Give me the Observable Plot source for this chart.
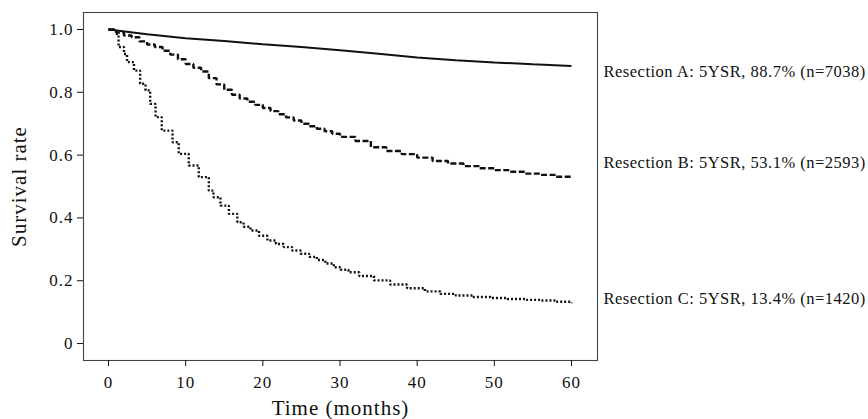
<!DOCTYPE html>
<html><head><meta charset="utf-8">
<script src="https://cdn.jsdelivr.net/npm/d3@7"></script>
<script src="https://cdn.jsdelivr.net/npm/@observablehq/plot@0.6"></script>
<style>
html,body{margin:0;padding:0;background:#fff;}
#chart svg{display:block;}
g[aria-label="x-axis tick label"], g[aria-label="y-axis tick label"]{letter-spacing:1px;}
g[aria-label="x-axis label"], g[aria-label="y-axis label"]{letter-spacing:1px;}
g[aria-label="text"]{letter-spacing:0.5px;}
</style></head><body><div id="chart"></div>
<script>
// ---- data ----
const seriesNames = ["Resection A", "Resection B", "Resection C"];
const fiveYSR = [0.887, 0.531, 0.134];
const nPatients = [7038, 2593, 1420];

const monthsA = [0, 5, 10, 15, 20, 25, 30, 35, 40, 45, 50, 55, 60];
const survA   = [1.0, 0.985, 0.972, 0.963, 0.953, 0.944, 0.934, 0.923, 0.911, 0.902, 0.895, 0.889, 0.884];

const monthsB = [0, 1, 2, 3, 4, 5, 6, 7, 8, 9, 10, 11, 12, 13, 14, 15, 16, 17, 18, 19, 20, 21, 22, 23, 24, 25, 26, 27, 28, 29, 30, 32, 34, 36, 38, 40, 42, 44, 46, 48, 50, 52, 54, 56, 58, 60];
const survB   = [1.0, 0.99, 0.981, 0.975, 0.962, 0.952, 0.944, 0.932, 0.92, 0.905, 0.89, 0.878, 0.866, 0.845, 0.825, 0.808, 0.792, 0.78, 0.77, 0.76, 0.75, 0.74, 0.73, 0.72, 0.71, 0.70, 0.692, 0.684, 0.676, 0.668, 0.658, 0.645, 0.625, 0.613, 0.603, 0.592, 0.581, 0.573, 0.565, 0.558, 0.552, 0.547, 0.541, 0.537, 0.531, 0.526];

const monthsC = [0, 1, 1.3, 2, 2.4, 3.3, 4.1, 4.8, 5.4, 6.1, 6.9, 8.3, 9.1, 10.4, 11.7, 13.0, 13.6, 14.5, 15.6, 16.7, 17.5, 18.4, 19.5, 20.6, 21.7, 22.7, 23.8, 24.9, 26, 27, 28.1, 29.2, 30.1, 31.1, 32.5, 34.4, 36.5, 38.7, 41, 43, 45, 47.3, 49.5, 51.7, 54, 56, 58, 60];
const survC   = [1.0, 0.986, 0.944, 0.922, 0.896, 0.869, 0.827, 0.806, 0.763, 0.721, 0.678, 0.641, 0.604, 0.567, 0.53, 0.487, 0.466, 0.439, 0.413, 0.386, 0.372, 0.36, 0.343, 0.328, 0.317, 0.307, 0.296, 0.286, 0.276, 0.266, 0.255, 0.243, 0.235, 0.227, 0.215, 0.201, 0.188, 0.176, 0.166, 0.158, 0.153, 0.148, 0.145, 0.142, 0.139, 0.137, 0.133, 0.128];

const xTicks = [0, 10, 20, 30, 40, 50, 60];
const yTicks = [0, 0.2, 0.4, 0.6, 0.8, 1.0];
const yTickLabels = ["0", "0.2", "0.4", "0.6", "0.8", "1.0"];

// ---- build table ----
const rows = [];
[[monthsA, survA], [monthsB, survB], [monthsC, survC]].forEach(([m, s], i) =>
  m.forEach((t, j) => rows.push({series: seriesNames[i], month: t, surv: s[j]})));
const labels = seriesNames.map((name, i) => ({
  name, y: fiveYSR[i],
  text: `${name}: 5YSR, ${(fiveYSR[i] * 100).toFixed(1)}% (n=${nPatients[i]})`
}));

// ---- styles ----
const lineStyles = [
  {curve: "linear", strokeWidth: 2.0, strokeDasharray: null},
  {curve: "step-after", strokeWidth: 2.4, strokeDasharray: "6,2.5"},
  {curve: "step-after", strokeWidth: 2.4, strokeDasharray: "2,2"}
];
const labelDy = [7, -14, -3];

const chart = Plot.plot({
  width: 868, height: 419,
  marginLeft: 83, marginRight: 271, marginTop: 12, marginBottom: 59,
  x: {domain: [-3.24, 63.37]},
  y: {domain: [-0.054, 1.054]},
  style: {fontFamily: "'Liberation Serif', 'Times New Roman', serif", color: "#111", background: "#fff"},
  marks: [
    Plot.frame({stroke: "#444", strokeWidth: 1.1}),
    Plot.axisX({ticks: xTicks, tickSize: 6, tickPadding: 9, fontSize: 17, label: null, tickFormat: d => String(d)}),
    Plot.axisX({ticks: [], tickSize: 0, label: "Time (months)", labelAnchor: "center", labelOffset: 54, labelArrow: "none", fontSize: 21}),
    Plot.axisY({ticks: yTicks, tickSize: 6, tickPadding: 4, fontSize: 17, label: null, tickFormat: d => yTickLabels[yTicks.indexOf(d)]}),
    Plot.axisY({ticks: [], tickSize: 0, label: "Survival rate", labelAnchor: "center", labelOffset: 72, labelArrow: "none", fontSize: 21}),
    ...seriesNames.map((name, i) => Plot.line(rows.filter(r => r.series === name), {
      x: "month", y: "surv", stroke: "#111",
      curve: lineStyles[i].curve, strokeWidth: lineStyles[i].strokeWidth,
      strokeDasharray: lineStyles[i].strokeDasharray,
      strokeLinecap: "butt", strokeLinejoin: "miter"
    })),
    ...labels.map((d, i) => Plot.text([d], {
      frameAnchor: "right", y: "y", text: "text", dx: 6, dy: labelDy[i],
      textAnchor: "start", fontSize: 16.5, fill: "#111"
    }))
  ]
});
document.getElementById("chart").appendChild(chart);
</script>
</body></html>
